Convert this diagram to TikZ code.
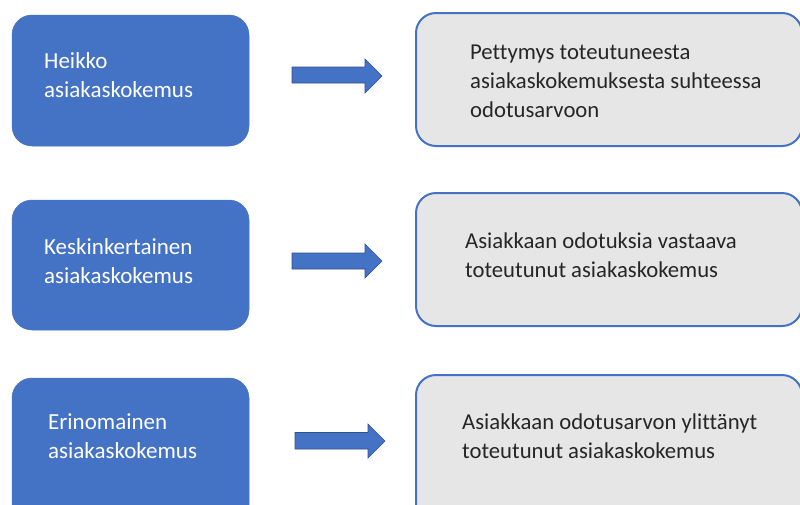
\documentclass[tikz,border=0pt]{standalone}
\usepackage{fontspec}
\setmainfont{Carlito}[Ligatures=NoCommon]
\definecolor{accblue}{HTML}{4472C4}
\definecolor{accdark}{HTML}{2F528F}
\definecolor{boxgray}{HTML}{E7E6E6}
\definecolor{txtdark}{HTML}{262626}
\tikzset{
  leftbox/.style={draw=accblue, fill=accblue, rounded corners=20pt, line width=0.5pt, inner sep=0pt},
  rightbox/.style={draw=accblue, fill=boxgray, rounded corners=20pt, line width=2pt, inner sep=0pt},
  lefttext/.style={anchor=base west, inner sep=0pt, align=left, text=white, font=\fontsize{23}{29}\selectfont},
  righttext/.style={anchor=base west, inner sep=0pt, align=left, text=txtdark, font=\fontsize{22.7}{29}\selectfont},
  blockarrow/.style={draw=accdark, fill=accblue, line width=0.6pt, line join=miter}
}
\begin{document}
\begin{tikzpicture}[x=1pt,y=-1pt]
\useasboundingbox (0,0) rectangle (800,504);
\fill[white] (0,0) rectangle (800,504);
% left boxes
\node[leftbox, minimum width=237pt, minimum height=131pt] (L1) at (130.5,80.5) {};
\node[leftbox, minimum width=237pt, minimum height=130pt] (L2) at (130.5,265) {};
\node[leftbox, minimum width=237pt, minimum height=152pt] (L3) at (130.5,454) {};
% right boxes
\node[rightbox, minimum width=386pt, minimum height=133pt] (R1) at (609,79.5) {};
\node[rightbox, minimum width=386pt, minimum height=133pt] (R2) at (609,259.5) {};
\node[rightbox, minimum width=386pt, minimum height=155pt] (R3) at (609,452.5) {};
% block arrows
\draw[blockarrow] (292,67) -- (365,67) -- (365,59) -- (382,76) -- (365,93) -- (365,83) -- (292,83) -- cycle;
\draw[blockarrow] (292,253) -- (365,253) -- (365,244) -- (382,261) -- (365,278) -- (365,269) -- (292,269) -- cycle;
\draw[blockarrow] (295,432.5) -- (368,432.5) -- (368,424) -- (385,441) -- (368,458) -- (368,449) -- (295,449) -- cycle;
% texts
\node[lefttext] (T1) at (44,97) {Heikko\\asiakaskokemus};
\node[lefttext] (T2) at (44,283) {Keskinkertainen\\asiakaskokemus};
\node[lefttext] (T3) at (48,458) {Erinomainen\\asiakaskokemus};
\node[righttext] (U1) at (470,117) {Pettymys toteutuneesta\\asiakaskokemuksesta suhteessa\\odotusarvoon};
\node[righttext] (U2) at (465,277) {Asiakkaan odotuksia vastaava\\toteutunut asiakaskokemus};
\node[righttext] (U3) at (462,458) {Asiakkaan odotusarvon ylittänyt\\toteutunut asiakaskokemus};
\end{tikzpicture}
\end{document}
